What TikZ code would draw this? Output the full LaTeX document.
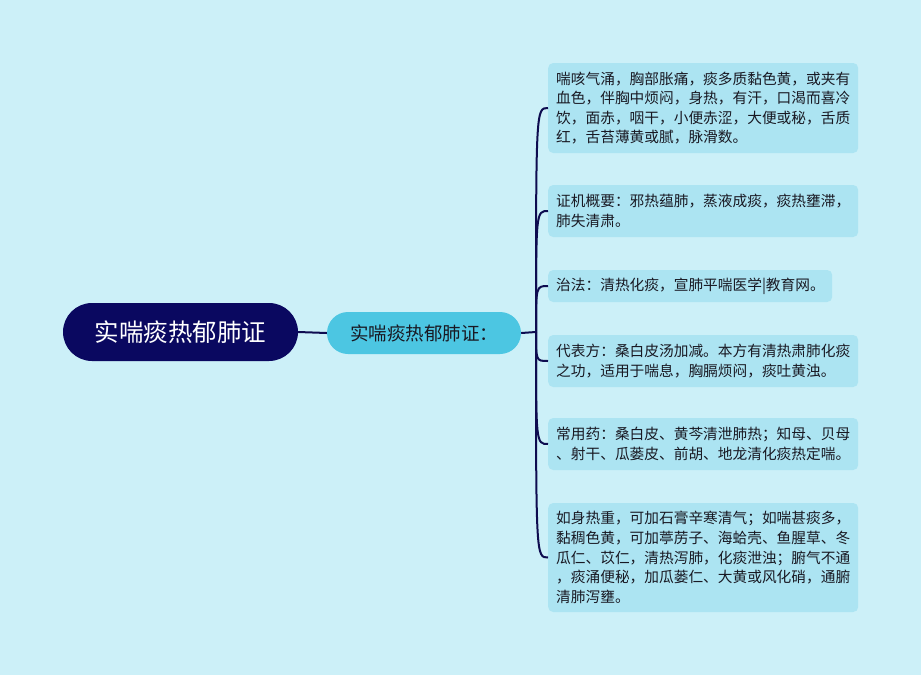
\documentclass[tikz,border=0pt]{standalone}
\usepackage{fontspec}
\newfontfamily\cjk{Noto Sans CJK SC}
\definecolor{bgc}{RGB}{204,240,248}
\definecolor{leafc}{RGB}{172,228,242}
\definecolor{rootc}{RGB}{10,8,96}
\definecolor{subc}{RGB}{76,198,226}
\definecolor{linec}{RGB}{14,12,80}
\definecolor{txtc}{RGB}{25,25,35}
\tikzset{
  rootbox/.style={fill=rootc, text=white, rounded corners=29pt, minimum width=235pt, minimum height=58pt, inner sep=0pt, font=\cjk\fontsize{24.5pt}{29pt}\selectfont},
  subbox/.style={fill=subc, text=txtc, rounded corners=21pt, minimum width=194pt, minimum height=42pt, inner sep=0pt, font=\cjk\fontsize{18.5pt}{22pt}\selectfont},
  leaf/.style={fill=leafc, text=txtc, rounded corners=5pt, anchor=west, align=left, inner xsep=8pt, inner ysep=0pt, text width=294pt, minimum width=310pt, font=\cjk\fontsize{14.7pt}{19.6pt}\selectfont},
  conn/.style={draw=linec, line width=2pt}
}
\begin{document}
\begin{tikzpicture}[x=1pt,y=-1pt]
\fill[bgc] (0,0) rectangle (921,675);
\useasboundingbox (0,0) rectangle (921,675);

\node[rootbox] (root) at (180.5,332) {实喘痰热郁肺证};
\node[subbox] (sub) at (424,333) {实喘痰热郁肺证：};

\node[leaf, minimum height=90pt] (l1) at (548,108) {喘咳气涌，胸部胀痛，痰多质黏色黄，或夹有\\血色，伴胸中烦闷，身热，有汗，口渴而喜冷\\饮，面赤，咽干，小便赤涩，大便或秘，舌质\\红，舌苔薄黄或腻，脉滑数。};
\node[leaf, minimum height=52pt] (l2) at (548,211) {证机概要：邪热蕴肺，蒸液成痰，痰热壅滞，\\肺失清肃。};
\node[leaf, minimum height=32pt, text width=268pt, minimum width=284pt] (l3) at (548,286) {治法：清热化痰，宣肺平喘医学|教育网。};
\node[leaf, minimum height=52pt] (l4) at (548,361) {代表方：桑白皮汤加减。本方有清热肃肺化痰\\之功，适用于喘息，胸膈烦闷，痰吐黄浊。};
\node[leaf, minimum height=52pt] (l5) at (548,444) {常用药：桑白皮、黄芩清泄肺热；知母、贝母\\、射干、瓜蒌皮、前胡、地龙清化痰热定喘。};
\node[leaf, minimum height=109pt] (l6) at (548,557.5) {如身热重，可加石膏辛寒清气；如喘甚痰多，\\黏稠色黄，可加葶苈子、海蛤壳、鱼腥草、冬\\瓜仁、苡仁，清热泻肺，化痰泄浊；腑气不通\\，痰涌便秘，加瓜蒌仁、大黄或风化硝，通腑\\清肺泻壅。};

\coordinate (J) at (536,332);
\draw[conn] (root.east) -- (sub.west);
\draw[conn] (sub.east) -- (J);
\foreach \n in {l1,l2,l3,l4,l5,l6}{
  \draw[conn] (J) .. controls (J |- \n.west) .. (\n.west);
}
\end{tikzpicture}
\end{document}
